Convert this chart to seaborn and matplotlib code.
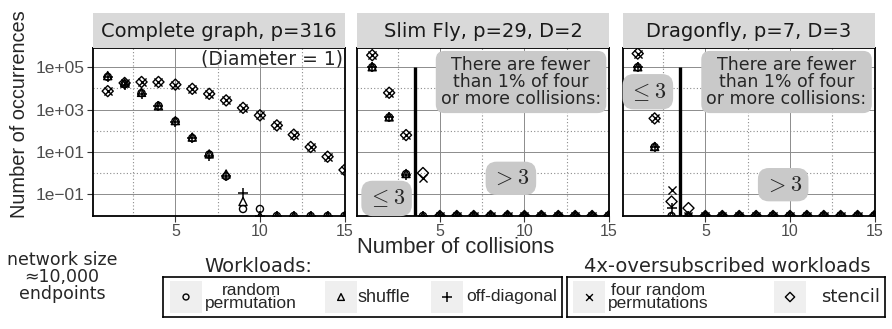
import numpy as np
import pandas as pd
import seaborn as sns
import matplotlib.pyplot as plt
from matplotlib.patches import Rectangle
from matplotlib.ticker import FixedLocator, NullFormatter

# ---- data ------------------------------------------------------------------
collisions = list(range(1, 16))

panel_titles = ["Complete graph, p=316", "Slim Fly, p=29, D=2", "Dragonfly, p=7, D=3"]
workloads = ["random permutation", "shuffle", "off-diagonal",
             "four random permutations", "stencil"]
legend_labels = ["random\npermutation", "shuffle", "off-diagonal",
                 "four random\npermutations", "stencil"]

# Complete graph
cg_random = [3.5e4, 1.6e4, 6.0e3, 1.5e3, 280, 45, 7.5, 0.7, 0.02, 0.02, 0, 0, 0, 0, 0]
cg_shuffle = [4.0e4, 1.8e4, 6.5e3, 1.5e3, 300, 50, 8.0, 0.9, 0.045, 0, 0, 0, 0, 0, 0]
cg_offdiag = [3.6e4, 1.5e4, 5.5e3, 1.4e3, 260, 45, 6.5, 0.7, 0.12, 0, 0, 0, 0, 0, 0]
cg_four = [7.4e3, 1.8e4, 2.0e4, 2.0e4, 1.5e4, 9.5e3, 5.5e3, 2.7e3, 1.2e3, 530, 178, 65, 17, 5.9, 1.4]
cg_stencil = [7.4e3, 1.8e4, 2.0e4, 2.0e4, 1.5e4, 9.5e3, 5.5e3, 2.7e3, 1.2e3, 530, 178, 65, 17, 5.9, 1.4]

# Slim Fly
sf_random = [1.0e5, 430, 0.9, 0, 0, 0, 0, 0, 0, 0, 0, 0, 0, 0, 0]
sf_shuffle = [1.05e5, 450, 0.95, 0, 0, 0, 0, 0, 0, 0, 0, 0, 0, 0, 0]
sf_offdiag = [1.0e5, 420, 0.85, 0, 0, 0, 0, 0, 0, 0, 0, 0, 0, 0, 0]
sf_four = [3.7e5, 6.2e3, 62, 0.56, 0, 0, 0, 0, 0, 0, 0, 0, 0, 0, 0]
sf_stencil = [3.7e5, 6.2e3, 62, 1.0, 0, 0, 0, 0, 0, 0, 0, 0, 0, 0, 0]

# Dragonfly
df_random = [1.0e5, 17, 0, 0, 0, 0, 0, 0, 0, 0, 0, 0, 0, 0, 0]
df_shuffle = [1.05e5, 18, 0, 0, 0, 0, 0, 0, 0, 0, 0, 0, 0, 0, 0]
df_offdiag = [1.0e5, 17, 0.022, 0, 0, 0, 0, 0, 0, 0, 0, 0, 0, 0, 0]
df_four = [4.4e5, 380, 0.15, 0, 0, 0, 0, 0, 0, 0, 0, 0, 0, 0, 0]
df_stencil = [4.4e5, 380, 0.045, 0.022, 0, 0, 0, 0, 0, 0, 0, 0, 0, 0, 0]

panel_data = [
    [cg_random, cg_shuffle, cg_offdiag, cg_four, cg_stencil],
    [sf_random, sf_shuffle, sf_offdiag, sf_four, sf_stencil],
    [df_random, df_shuffle, df_offdiag, df_four, df_stencil],
]

ytick_values = [1e-1, 1e1, 1e3, 1e5]
ytick_labels = ["1e\u221201", "1e+01", "1e+03", "1e+05"]
threshold = 3.5

# ---- styling -------------------------------------------------------------------
W, H = 892, 329
YMIN, YMAX = 10 ** -2.03, 10 ** 5.93

markers = {
    "random permutation": dict(marker="o", s=26, facecolor="none", edgecolor="black", linewidth=1.0),
    "shuffle": dict(marker="^", s=34, facecolor="none", edgecolor="black", linewidth=1.0),
    "off-diagonal": dict(marker="+", s=60, color="black", linewidth=1.1),
    "four random permutations": dict(marker="x", s=34, color="black", linewidth=1.0),
    "stencil": dict(marker="D", s=32, facecolor="none", edgecolor="black", linewidth=1.0),
}

sns.set_style("white")
plt.rcParams["font.family"] = ["DejaVu Sans"]
plt.rcParams["mathtext.fontset"] = "cm"

fig = plt.figure(figsize=(W / 100, H / 100), dpi=100)


def fbox(x0, y0, x1, y1):
    # pixel box -> figure fraction rect
    return [x0 / W, 1 - y1 / H, (x1 - x0) / W, (y1 - y0) / H]


panel_left = [92.5, 357, 622.5]
panel_w = 252
panel_top, panel_bot = 47.5, 216
strip_top = 13

long_frames = []
for p, title in enumerate(panel_titles):
    for w, vals in zip(workloads, panel_data[p]):
        long_frames.append(pd.DataFrame({"panel": title, "workload": w,
                                         "collisions": collisions, "count": vals}))
df = pd.concat(long_frames, ignore_index=True)
# zeros are squished onto the bottom of the log axis
df["plot_count"] = df["count"].where(df["count"] > 0, YMIN)

axes = []
for p, title in enumerate(panel_titles):
    x0 = panel_left[p]
    ax = fig.add_axes(fbox(x0, panel_top, x0 + panel_w, panel_bot))
    axes.append(ax)
    sub = df[df["panel"] == title]
    for w in workloads:
        sns.scatterplot(data=sub[sub["workload"] == w], x="collisions", y="plot_count",
                        ax=ax, legend=False, zorder=3, **markers[w])
    ax.set_yscale("log")
    ax.set_xlim(0.1, 15)
    ax.set_ylim(YMIN, YMAX)
    ax.xaxis.set_major_locator(FixedLocator([5, 10, 15]))
    ax.xaxis.set_minor_locator(FixedLocator([2.5, 7.5, 12.5]))
    ax.yaxis.set_major_locator(FixedLocator(ytick_values))
    ax.yaxis.set_minor_locator(FixedLocator([1e0, 1e2, 1e4]))
    ax.xaxis.set_minor_formatter(NullFormatter())
    ax.yaxis.set_minor_formatter(NullFormatter())
    ax.grid(True, which="major", color="#8c8c8c", linewidth=0.7, linestyle="-")
    ax.grid(True, which="minor", color="#8c8c8c", linewidth=0.8, linestyle=(0, (1, 2)))
    ax.set_axisbelow(True)
    ax.set_xlabel("")
    ax.set_ylabel("")
    for sp in ax.spines.values():
        sp.set_color("black")
        sp.set_linewidth(1.3)
    ax.tick_params(axis="x", which="major", length=4, width=0.8, color="#333333",
                   labelsize=11.5, labelcolor="#4d4d4d", pad=1.5, bottom=True)
    for lab in ax.get_xticklabels():
        lab.set_family("Liberation Sans")
    ax.tick_params(which="minor", length=0)
    if p == 0:
        ax.set_yticklabels(ytick_labels, family="Liberation Sans")
        ax.tick_params(axis="y", which="major", length=4, width=0.8, color="#333333",
                       labelsize=12.5, labelcolor="#4d4d4d", pad=2, left=True)
    else:
        ax.tick_params(axis="y", which="major", length=0, labelleft=False)

    # strip
    sax = fig.add_axes(fbox(x0, strip_top, x0 + panel_w, panel_top))
    sax.set_facecolor("#d9d9d9")
    sax.set_xticks([])
    sax.set_yticks([])
    for sp in sax.spines.values():
        sp.set_visible(False)
    sax.text(0.5, 0.47, title, ha="center", va="center", fontsize=14,
             color="#1a1a1a", transform=sax.transAxes)

# annotations
axes[0].text(0.995, 0.99, "(Diameter = 1)", ha="right", va="top", fontsize=13.5,
             transform=axes[0].transAxes, zorder=5)

box_kw = dict(boxstyle="round,pad=0.3,rounding_size=0.5", fc="#c9c9c9", ec="none")
note = "There are fewer\nthan 1% of four\nor more collisions:"
for ax in axes[1:]:
    ax.vlines(threshold, YMIN, 1e5, color="black", linewidth=2.4, zorder=4)
    ax.text(9.8, 10 ** 4.3, note, ha="center", va="center", fontsize=12.5,
            linespacing=0.92, bbox=box_kw, zorder=5)

math_kw = dict(ha="center", va="center", fontsize=16, bbox=box_kw, zorder=5)
axes[1].text(1.85, 10 ** -1.2, r"$\leq 3$", **math_kw)
axes[1].text(9.2, 10 ** -0.25, r"$> 3$", **math_kw)
axes[2].text(1.6, 10 ** 3.84, r"$\leq 3$", **math_kw)
axes[2].text(9.6, 10 ** -0.55, r"$> 3$", **math_kw)

fig.text(20 / W, 1 - 114 / H, "Number of occurrences", rotation=90, ha="center",
         va="center", fontsize=14.4, family="Liberation Sans")
fig.text(456 / W, 1 - 247.5 / H, "Number of collisions", ha="center", va="center",
         fontsize=15.8, family="Liberation Sans")
fig.text(62 / W, 1 - 277 / H, "network size\n\u224810,000\nendpoints", ha="center",
         va="center", fontsize=12.5, linespacing=0.92)


# ---- legends (drawn in pixel space) ---------------------------------------------
def legend_box(x0, y0, x1, y1, title, title_x, items):
    lax = fig.add_axes(fbox(x0, y0, x1, y1))
    lax.set_xlim(x0, x1)
    lax.set_ylim(y1, y0)
    lax.set_xticks([])
    lax.set_yticks([])
    for sp in lax.spines.values():
        sp.set_color("black")
        sp.set_linewidth(1.2)
    fig.text(title_x / W, 1 - 266 / H, title, ha="center", va="center", fontsize=14)
    yc = (y0 + y1) / 2
    for w, kx, tx, ha, fam, fs in items:
        lax.add_patch(Rectangle((kx - 16, yc - 16), 32, 32, fc="#efefef", ec="none"))
        kw = dict(markers[w])
        kw["s"] = kw["s"] * 0.7
        lax.scatter([kx], [yc], **kw)
        label = legend_labels[workloads.index(w)]
        lax.text(tx, yc, label, ha=ha, va="center", fontsize=fs,
                 linespacing=0.85, family=fam)


legend_box(163, 277, 562, 317, "Workloads:", 258, [
    ("random permutation", 186, 251, "center", "Liberation Sans", 12.5),
    ("shuffle", 341, 358, "left", "Liberation Sans", 13),
    ("off-diagonal", 447, 466, "left", "Liberation Sans", 12.5),
])
legend_box(567, 277, 885, 317, "4x-oversubscribed workloads", 727, [
    ("four random permutations", 589, 658, "center", "Liberation Sans", 12.5),
    ("stencil", 790, 880, "right", "DejaVu Sans", 13),
])

fig.savefig("out.png", dpi=100)
